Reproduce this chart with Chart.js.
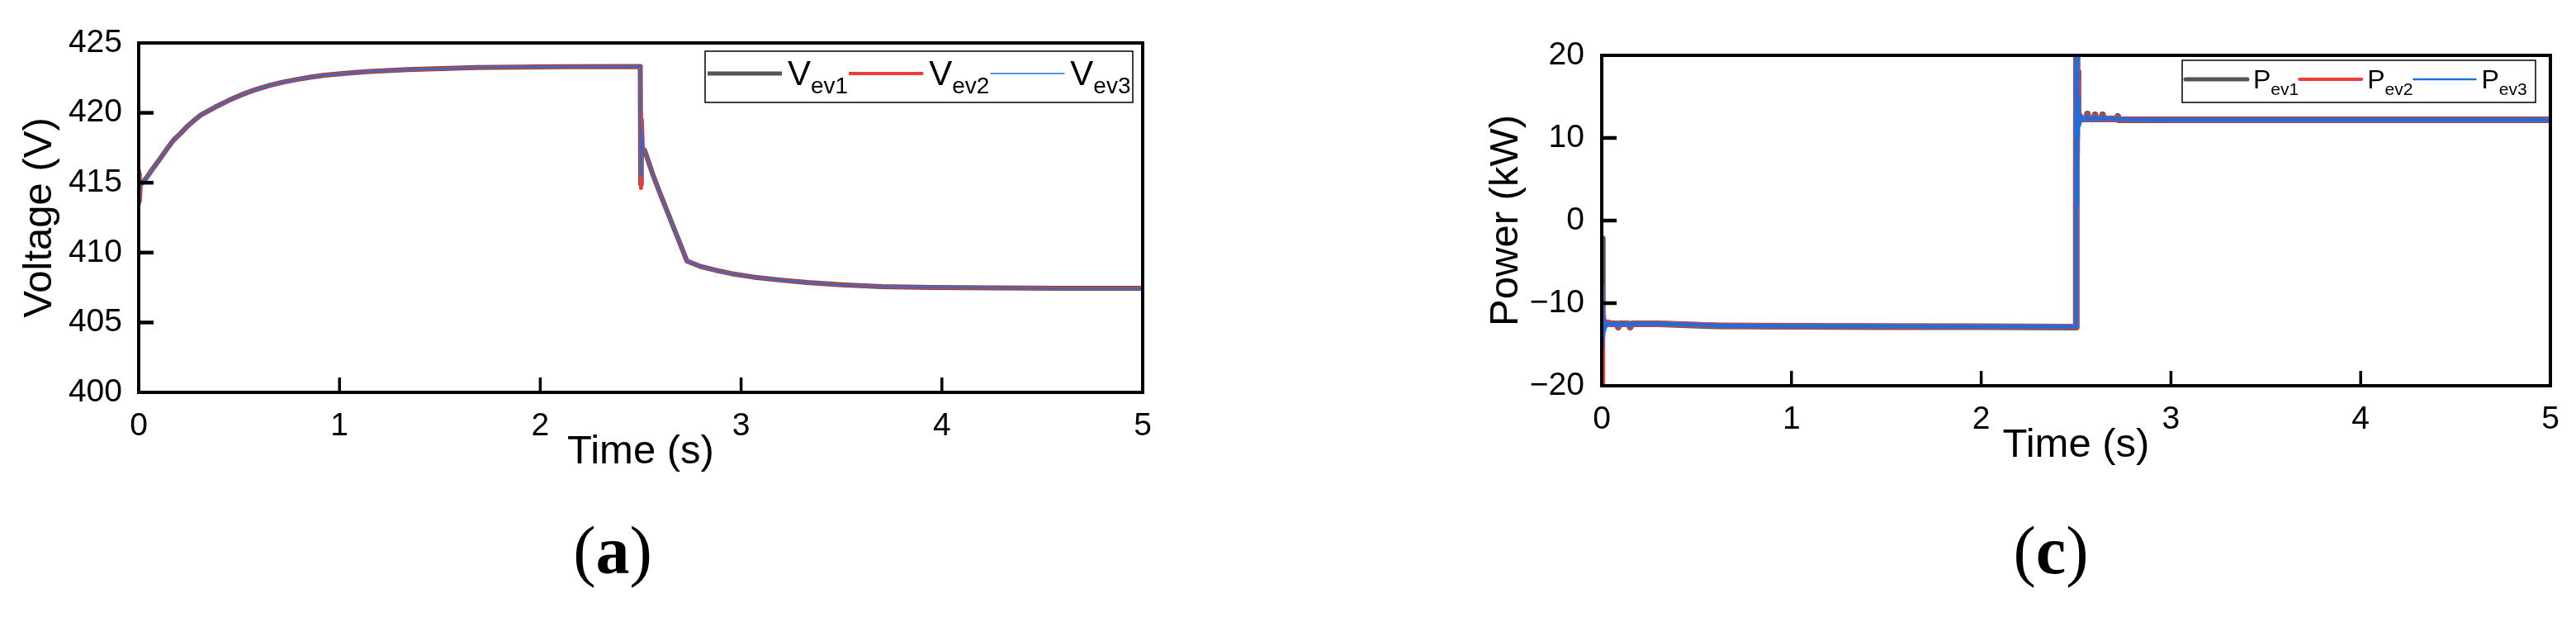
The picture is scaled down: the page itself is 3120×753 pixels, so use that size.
<!DOCTYPE html>
<html>
<head>
<meta charset="utf-8">
<script src="https://cdn.jsdelivr.net/npm/chart.js@4.4.1/dist/chart.umd.min.js"></script>
<style>
  html, body { margin: 0; padding: 0; background: #fff; }
  body { width: 3120px; height: 753px; position: relative; overflow: hidden; }
  .panel { position: absolute; top: 0; width: 1560px; height: 753px; }
  .cap { position: absolute; top: 626px; width: 200px; text-align: center;
         font-family: 'Liberation Serif', 'Times New Roman', serif; font-size: 82px; line-height: 1; color: #000; }
  .cap b { font-weight: bold; }
</style>
</head>
<body>
<div class="panel" style="left:0"><canvas id="cA" width="1560" height="753"></canvas></div>
<div class="panel" style="left:1560px"><canvas id="cB" width="1560" height="753"></canvas></div>
<div class="cap" style="left:642px">(<b>a</b>)</div>
<div class="cap" style="left:2384px">(<b>c</b>)</div>
<script>
// ---------- DATA ----------
const xTicks = [0, 1, 2, 3, 4, 5];
const vTicks = [400, 405, 410, 415, 420, 425];
const pTicks = [-20, -10, 0, 10, 20];
const legendSubs = ['ev1', 'ev2', 'ev3'];

const timeV = [0, 0.003, 0.008, 0.02, 0.036, 0.07, 0.104, 0.14, 0.173, 0.21,
  0.241, 0.275, 0.31, 0.378, 0.45, 0.515, 0.58, 0.652, 0.72, 0.789,
  0.86, 0.927, 1.03, 1.133, 1.338, 1.68, 2.1, 2.498, 2.5, 2.503,
  2.508, 2.52, 2.56, 2.6, 2.65, 2.7, 2.73, 2.8, 2.87, 2.95,
  3.06, 3.2, 3.33, 3.5, 3.7, 3.95, 4.25, 4.6, 5.0];
const vEv1 = [415.6, 413.7, 414.9, 415.0, 415.3, 416.0, 416.67, 417.4, 418.04, 418.55,
  419.02, 419.45, 419.85, 420.39, 420.9, 421.31, 421.65, 421.96, 422.2, 422.39,
  422.56, 422.69, 422.83, 422.94, 423.1, 423.24, 423.3, 423.32, 414.9, 419.5,
  417.5, 417.3, 415.6, 414.1, 412.3, 410.5, 409.4, 409.0, 408.75, 408.5,
  408.25, 408.03, 407.86, 407.7, 407.57, 407.5, 407.47, 407.45, 407.45];
const vEv2 = [415.9, 413.5, 414.8, 415.0, 415.3, 416.0, 416.67, 417.4, 418.04, 418.55,
  419.02, 419.45, 419.85, 420.39, 420.9, 421.31, 421.65, 421.96, 422.2, 422.39,
  422.56, 422.69, 422.83, 422.94, 423.1, 423.24, 423.3, 423.32, 414.6, 420.0,
  417.6, 417.3, 415.6, 414.1, 412.3, 410.5, 409.4, 409.0, 408.75, 408.5,
  408.25, 408.03, 407.86, 407.7, 407.57, 407.5, 407.47, 407.45, 407.45];
const vEv3 = [415.2, 413.9, 414.7, 415.0, 415.3, 416.0, 416.67, 417.4, 418.04, 418.55,
  419.02, 419.45, 419.85, 420.39, 420.9, 421.31, 421.65, 421.96, 422.2, 422.39,
  422.56, 422.69, 422.83, 422.94, 423.1, 423.24, 423.3, 423.32, 415.5, 418.8,
  417.4, 417.3, 415.6, 414.1, 412.3, 410.5, 409.4, 409.0, 408.75, 408.5,
  408.25, 408.03, 407.86, 407.7, 407.57, 407.5, 407.47, 407.45, 407.45];

const timeP = [0, 0.002, 0.004, 0.007, 0.01, 0.015, 0.02, 0.03, 0.05, 0.08, 0.087, 0.095, 0.14, 0.15, 0.16, 0.3, 0.6, 1.0, 1.5, 2.0, 2.5, 2.501, 2.503, 2.505, 2.507, 2.51, 2.515, 2.52, 2.53, 2.555, 2.56, 2.565, 2.595, 2.6, 2.605, 2.635, 2.64, 2.645, 2.715, 2.72, 2.725, 3.0, 4.0, 5.0];
const pEv1 = [-2.2, -12.0, -13.5, -12.0, -12.8, -12.3, -12.6, -12.4, -12.5, -12.5, -12.9, -12.5, -12.5, -12.9, -12.5, -12.5, -12.75, -12.8, -12.85, -12.85, -12.9, 5, 22, 14, 18, 13, 12.2, 12.6, 12.3, 12.3, 12.9, 12.3, 12.3, 12.8, 12.3, 12.3, 12.8, 12.3, 12.3, 12.6, 12.2, 12.2, 12.2, 12.2];
const pEv2 = [-20.5, -8.0, -14.5, -11.5, -13.0, -12.2, -12.7, -12.4, -12.5, -12.5, -12.9, -12.5, -12.5, -12.9, -12.5, -12.5, -12.7, -12.8, -12.8, -12.85, -12.85, 21, 19, 8, 17, 12.5, 11.8, 12.7, 12.3, 12.3, 12.8, 12.3, 12.3, 12.7, 12.3, 12.3, 12.7, 12.3, 12.3, 12.5, 12.25, 12.2, 12.2, 12.2];
const pEv3 = [-8.0, -15.2, -9.5, -14.0, -11.8, -13.2, -12.3, -12.6, -12.5, -12.5, -12.8, -12.5, -12.5, -12.8, -12.5, -12.5, -12.7, -12.8, -12.8, -12.85, -12.85, 21, 2, 21, 10, 15, 11.5, 12.8, 12.2, 12.3, 12.7, 12.3, 12.3, 12.6, 12.3, 12.3, 12.6, 12.3, 12.3, 12.5, 12.25, 12.2, 12.2, 12.2];

// ---------- STYLE / HELPERS ----------
const FONT = "'Liberation Sans', Arial, sans-serif";
const GRAY = '#555555', RED = '#EE3B3B', BLUE = '#1E6FD9';
const pts = (xs, ys) => xs.map((x, i) => ({x: x, y: ys[i]}));
const fmt = v => (v < 0 ? '\u2212' + Math.abs(v) : String(v));

const framePlugin = {
  id: 'frame',
  afterDatasetsDraw(chart) {
    const {ctx, chartArea: a, scales} = chart;
    ctx.save();
    ctx.strokeStyle = '#000';
    ctx.lineCap = 'butt';
    const tl = 18;
    ctx.lineWidth = 3.5;
    scales.x.ticks.forEach(t => {
      const px = scales.x.getPixelForValue(t.value);
      if (Math.abs(px - a.left) < 3 || Math.abs(px - a.right) < 3) return;
      ctx.beginPath(); ctx.moveTo(px, a.bottom); ctx.lineTo(px, a.bottom - tl); ctx.stroke();
    });
    ctx.lineWidth = 4.5;
    scales.y.ticks.forEach(t => {
      const py = scales.y.getPixelForValue(t.value);
      if (Math.abs(py - a.top) < 3 || Math.abs(py - a.bottom) < 3) return;
      ctx.beginPath(); ctx.moveTo(a.left, py); ctx.lineTo(a.left + tl, py); ctx.stroke();
    });
    ctx.lineWidth = 4;
    ctx.strokeRect(a.left, a.top, a.right - a.left, a.bottom - a.top);
    ctx.restore();
  }
};

const subLegend = {
  id: 'subLegend',
  afterDraw(chart, args, o) {
    const ctx = chart.ctx;
    ctx.save();
    ctx.fillStyle = '#fff';
    ctx.fillRect(o.x, o.y, o.w, o.h);
    ctx.strokeStyle = '#000';
    ctx.lineWidth = 1.5;
    ctx.strokeRect(o.x, o.y, o.w, o.h);
    let x = o.x + o.pad;
    chart.data.datasets.forEach((ds, i) => {
      ctx.beginPath();
      ctx.strokeStyle = ds.borderColor;
      ctx.lineWidth = o.sampleWidths[i];
      ctx.lineCap = o.cap;
      ctx.moveTo(x, o.lineY); ctx.lineTo(x + o.sampleLen, o.lineY); ctx.stroke();
      x += o.sampleLen + o.gap;
      ctx.fillStyle = '#000';
      ctx.textBaseline = 'alphabetic';
      ctx.textAlign = 'left';
      ctx.font = o.mainSize + 'px ' + FONT;
      ctx.fillText(o.main, x, o.mainBase);
      x += ctx.measureText(o.main).width;
      ctx.font = o.subSize + 'px ' + FONT;
      ctx.fillText(legendSubs[i], x, o.subBase);
      x += ctx.measureText(legendSubs[i]).width + 1;
    });
    ctx.restore();
  }
};

function makeChart(id, cfg) {
  return new Chart(document.getElementById(id), {
    type: 'line',
    data: { datasets: cfg.datasets },
    options: {
      responsive: false, animation: false, devicePixelRatio: 1,
      layout: { padding: cfg.padding },
      elements: { point: { radius: 0, hoverRadius: 0 }, line: { tension: 0, borderJoinStyle: 'round' } },
      plugins: { legend: { display: false }, tooltip: { enabled: false }, subLegend: cfg.legend },
      scales: {
        x: {
          type: 'linear', min: 0, max: 5,
          afterBuildTicks: s => { s.ticks = xTicks.map(v => ({ value: v })); },
          afterFit: s => { s.height = cfg.xHeight; },
          grid: { display: false, drawTicks: false }, border: { display: false },
          ticks: { color: '#000', font: { family: FONT, size: 39 }, padding: cfg.xTickPad, maxRotation: 0, autoSkip: false, callback: v => fmt(v) },
          title: { display: true, text: 'Time (s)', color: '#000', font: { family: FONT, size: 49 }, padding: { top: 0, bottom: cfg.xTitlePad } }
        },
        y: {
          type: 'linear', min: cfg.yMin, max: cfg.yMax,
          afterBuildTicks: s => { s.ticks = cfg.yTicks.map(v => ({ value: v })); },
          afterFit: s => { s.width = cfg.yWidth; },
          grid: { display: false, drawTicks: false }, border: { display: false },
          ticks: { color: '#000', font: { family: FONT, size: 39 }, padding: cfg.yTickPad, autoSkip: false, callback: v => fmt(v) },
          title: { display: true, text: cfg.yTitle, color: '#000', font: { family: FONT, size: 49 }, padding: { top: cfg.yTitlePad, bottom: 0 } }
        }
      }
    },
    plugins: [framePlugin, subLegend]
  });
}

makeChart('cA', {
  datasets: [
    { label: 'Vev1', data: pts(timeV, vEv1), borderColor: GRAY, borderWidth: 6, order: 3 },
    { label: 'Vev2', data: pts(timeV, vEv2), borderColor: RED, borderWidth: 4, order: 2 },
    { label: 'Vev3', data: pts(timeV, vEv3), borderColor: BLUE, borderWidth: 2, order: 1 }
  ],
  padding: { left: 0, top: 52, right: 176, bottom: 0 },
  xHeight: 753 - 475, xTickPad: 18, xTitlePad: 176,
  yMin: 400, yMax: 425, yTicks: vTicks, yWidth: 168, yTickPad: 20, yTitle: 'Voltage (V)', yTitlePad: 19,
  legend: { x: 854, y: 62, w: 518, h: 62, pad: 3, sampleLen: 90, gap: 7, lineY: 89,
            sampleWidths: [5, 4, 1.5], cap: 'butt', main: 'V', mainSize: 42, mainBase: 103, subSize: 28, subBase: 113 }
});

makeChart('cB', {
  datasets: [
    { label: 'Pev1', data: pts(timeP, pEv1), borderColor: GRAY, borderWidth: 8, order: 3 },
    { label: 'Pev2', data: pts(timeP, pEv2), borderColor: RED, borderWidth: 7, order: 2 },
    { label: 'Pev3', data: pts(timeP, pEv3), borderColor: BLUE, borderWidth: 5, order: 1 }
  ],
  padding: { left: 0, top: 67, right: 31, bottom: 0 },
  xHeight: 753 - 467, xTickPad: 18, xTitlePad: 184,
  yMin: -20, yMax: 20, yTicks: pTicks, yWidth: 380, yTickPad: 21, yTitle: 'Power (kW)', yTitlePad: 235,
  legend: { x: 1083, y: 73, w: 428, h: 51, pad: 4, sampleLen: 75, gap: 7, lineY: 96,
            sampleWidths: [5, 4, 2.5], cap: 'round', main: 'P', mainSize: 32, mainBase: 107, subSize: 21, subBase: 115 }
});
</script>
</body>
</html>
